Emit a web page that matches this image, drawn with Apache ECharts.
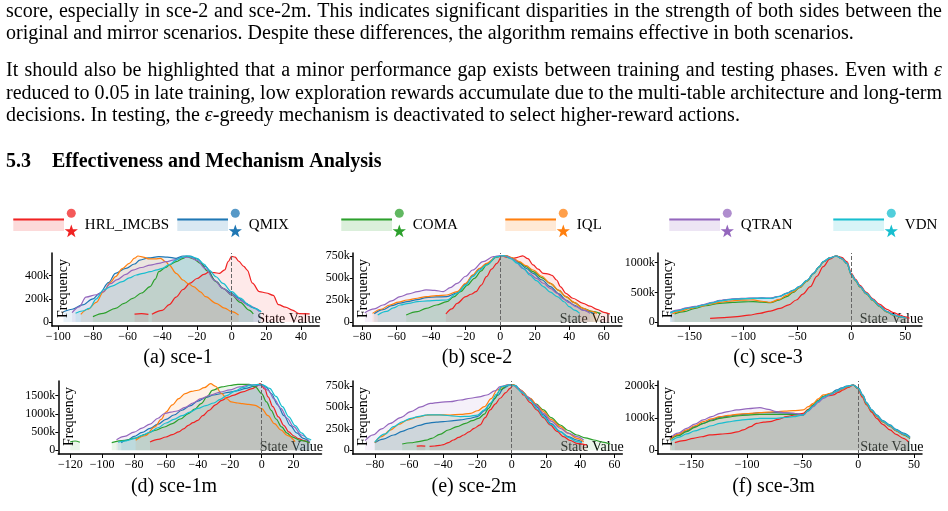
<!DOCTYPE html>
<html>
<head>
<meta charset="utf-8">
<script src="https://cdn.jsdelivr.net/npm/echarts@6/dist/echarts.min.js"></script>
<style>
html, body { margin: 0; padding: 0; background: #fff; }
#main { width: 948px; height: 511px; }
</style>
</head>
<body>
<div id="main"></div>
<script>
// ---- data ----
const algorithms = ['HRL_IMCBS', 'QMIX', 'COMA', 'IQL', 'QTRAN', 'VDN'];
const colors = ['#f02222', '#1f77b4', '#2ca02c', '#ff7f0e', '#9467bd', '#17becf'];
const captions = ['(a) sce-1', '(b) sce-2', '(c) sce-3', '(d) sce-1m', '(e) sce-2m', '(f) sce-3m'];

// frequency values in thousands, '-' marks a gap in the curve
const sce1_HRL = [[-56,68],[-52,72],[-48,66],[-47,'-'],[-46,66],[-40,100],[-36,150],[-32,215],[-28,280],[-24,335],[-20,375],[-16,410],[-13,432],[-10,425],[-7,420],[-4,450],[-2,520],[0,565],[2,560],[4,525],[7,480],[9,448],[12,335],[16,262],[20,250],[24,230],[27,150],[31,128],[35,103],[39,72],[45,70]];
const sce1_QMIX = [[-97,88],[-92,110],[-86,147],[-80,200],[-76,250],[-71,340],[-67,420],[-61,462],[-56,500],[-53,534],[-48,552],[-42,563],[-37,560],[-32,549],[-28,569],[-24,568],[-20,545],[-15,477],[-9,350],[-5,290],[0,248],[4,205],[8,162],[12,125],[17,88]];
const sce1_COMA = [[-80,46],[-74,75],[-67,118],[-62,160],[-57,204],[-52,250],[-47,305],[-44,370],[-42,434],[-38,470],[-36,491],[-32,520],[-28,549],[-26,563],[-22,545],[-18,506],[-14,440],[-9,348],[-5,290],[0,233],[5,170],[10,103],[12.5,69]];
const sce1_IQL = [[-87,66],[-83,110],[-78,170],[-74,260],[-70,340],[-67,391],[-63,460],[-59,506],[-56,550],[-54,569],[-51,560],[-48,545],[-44,545],[-41,549],[-38,520],[-36,491],[-32,420],[-28,362],[-25,330],[-22,305],[-18,260],[-15,218],[-9,161],[-4,120],[0,89],[4,60]];
const sce1_QTRAN = [[-92,80],[-88,130],[-84,215],[-78,235],[-74,260],[-70,330],[-66,365],[-61,410],[-57,448],[-52,470],[-47,491],[-42,505],[-38,520],[-33,535],[-28,557],[-24,560],[-20,530],[-15,460],[-10,360],[-5,290],[0,235],[5,185],[10,140],[16,90]];
const sce1_VDN = [[-90,75],[-86,95],[-82,118],[-78,200],[-74,276],[-69,310],[-63,348],[-59,380],[-55,405],[-51,420],[-47,434],[-43,450],[-40,462],[-36,495],[-32,534],[-29,555],[-26,569],[-23,562],[-20,549],[-16,500],[-13,448],[-9,390],[-5,333],[0,261],[5,205],[10,147],[13,118],[17,89]];

const sce2_HRL = [[-31.5,91],[-28,150],[-25,212],[-20,288],[-17,315],[-14,345],[-11,420],[-8,515],[-5,600],[-2,667],[1,750],[4,735],[7.5,723],[10,735],[13,752],[16,720],[19,648],[22,600],[25,553],[28,545],[30,530],[32.6,477],[35,400],[38,326],[42,270],[48,212],[52,180],[56,144],[60,110],[63.5,91]];
const sce2_QMIX = [[-73,95],[-68,140],[-63,185],[-58,215],[-54,231],[-48,255],[-43,277],[-37,285],[-31,288],[-25,330],[-20,430],[-16,530],[-12,605],[-8,660],[-2,740],[3,755],[7,725],[11,670],[15,610],[19,553],[24,480],[29,402],[34,320],[38,250],[43,190],[48,136],[54,98]];
const sce2_COMA = [[-54.5,80],[-48,118],[-43,155],[-37,193],[-31,231],[-27,285],[-23,345],[-19,420],[-15,496],[-11,580],[-8,648],[-2,740],[2,755],[6,730],[11,680],[15,630],[19,572],[24,505],[29,439],[34,360],[38,288],[43,220],[48,155],[53,120],[58,98]];
const sce2_IQL = [[-74,98],[-69,145],[-64,193],[-59,225],[-54,250],[-48,270],[-43,288],[-37,300],[-31,307],[-25,345],[-20,440],[-16,534],[-12,610],[-8,667],[-2,742],[3,755],[7,730],[11,686],[15,640],[19,591],[24,520],[29,439],[34,360],[38,288],[43,220],[48,155],[52,125],[56,98]];
const sce2_QTRAN = [[-78.5,106],[-73,150],[-68,193],[-63,240],[-58,288],[-53,320],[-48,345],[-43,364],[-38,360],[-33,345],[-29,390],[-25,439],[-20,520],[-16,591],[-10,686],[-4,742],[0,755],[4,745],[8,710],[13,610],[17,550],[21,496],[25,440],[29,383],[33,325],[36,269],[40,220],[44,174],[48,135],[52,98]];
const sce2_VDN = [[-71,80],[-66,120],[-62,160],[-58,193],[-53,212],[-48,231],[-42,240],[-37,245],[-31,250],[-25,326],[-20,420],[-16,515],[-12,590],[-8,648],[-2,742],[2,755],[6,720],[10,667],[14,600],[17,534],[21,470],[25,402],[29,340],[33,288],[37,230],[40,174],[43,135],[46,98]];

const sce3_HRL = [[-131,62],[-118,75],[-106,90],[-95,115],[-85,146],[-75,185],[-66,231],[-58,290],[-51,371],[-45,470],[-38,596],[-32,770],[-26,933],[-20,1060],[-14,1113],[-9,1090],[-4,1017],[0,821],[4,720],[8,620],[14,500],[20,390],[26,300],[33,214],[39,160],[45,118],[50,85],[54,62]];
const sce3_QMIX = [[-168,157],[-160,195],[-153,231],[-145,255],[-137,287],[-129,325],[-122,360],[-114,378],[-106,388],[-98,395],[-91,399],[-83,402],[-75,399],[-67,430],[-60,483],[-54,530],[-48,596],[-41,700],[-35,821],[-30,930],[-26,1017],[-20,1080],[-14,1113],[-9,1070],[-4,989],[0,800],[4,700],[8,596],[14,480],[20,371],[26,270],[33,174],[39,120],[45,90],[51,62]];
const sce3_COMA = [[-164,135],[-155,175],[-145,230],[-135,275],[-122,315],[-110,330],[-100,340],[-91,343],[-83,335],[-75,326],[-67,370],[-60,427],[-54,500],[-48,580],[-41,690],[-35,815],[-30,925],[-26,1012],[-20,1078],[-14,1113],[-9,1068],[-4,985],[0,795],[4,695],[8,590],[14,475],[20,365],[26,265],[33,170],[39,115],[45,85],[51,60]];
const sce3_IQL = [[-166,140],[-158,185],[-150,225],[-140,265],[-130,305],[-122,332],[-114,350],[-106,365],[-98,370],[-91,372],[-83,350],[-75,332],[-67,380],[-60,450],[-54,510],[-48,585],[-41,695],[-35,818],[-30,928],[-26,1015],[-20,1080],[-14,1113],[-9,1070],[-4,988],[0,798],[4,698],[8,594],[14,478],[20,368],[26,268],[33,172],[39,118],[45,88],[51,61]];
const sce3_QTRAN = [[-168,165],[-160,205],[-153,240],[-145,262],[-137,295],[-129,332],[-122,366],[-114,384],[-106,394],[-98,400],[-91,404],[-83,406],[-75,404],[-67,434],[-60,488],[-54,534],[-48,600],[-41,704],[-35,824],[-30,932],[-26,1018],[-20,1082],[-14,1113],[-9,1072],[-4,992],[0,805],[4,705],[8,600],[14,485],[20,376],[26,275],[33,178],[39,124],[45,92],[51,64]];
const sce3_VDN = [[-168,155],[-160,192],[-153,228],[-145,252],[-137,284],[-129,322],[-122,357],[-114,375],[-106,386],[-98,393],[-91,398],[-83,401],[-75,398],[-67,430],[-60,484],[-54,532],[-48,598],[-41,702],[-35,822],[-30,931],[-26,1018],[-20,1081],[-14,1113],[-9,1071],[-4,990],[0,802],[4,702],[8,598],[14,482],[20,373],[26,272],[33,176],[39,122],[45,91],[51,63]];

const sce1m_HRL = [[-70,228],[-65,300],[-60,366],[-56,430],[-52,504],[-49,590],[-46,687],[-43,760],[-40,824],[-37,950],[-33,1099],[-29,1250],[-25,1374],[-21,1460],[-18,1511],[-12,1603],[-6,1695],[-3,1760],[-1,1830],[2,1680],[4,1466],[7,1200],[10.5,916],[14,680],[17,504],[20,400],[23,321],[27,260],[30,209]];
const sce1m_QMIX = [[-88,210],[-84,290],[-80,380],[-75,490],[-70,600],[-65,720],[-60,850],[-55,970],[-50,1100],[-45,1220],[-40,1350],[-35,1450],[-30,1520],[-25,1560],[-20,1600],[-15,1640],[-10,1700],[-5,1760],[0,1810],[3,1730],[6,1560],[10,1250],[14,950],[18,680],[22,480],[26,330],[30,230]];
const sce1m_COMA = [[-120,230],[-117,255],[-114,220],[-112,'-'],[-94,209],[-86,270],[-79,337],[-73,440],[-67,549],[-61,640],[-56,733],[-51,860],[-46,1008],[-42,1130],[-38,1282],[-34,1480],[-31,1648],[-25,1740],[-20,1780],[-15,1813],[-8,1813],[-4,1740],[0,1557],[3,1330],[6,1099],[9,860],[12.5,641],[16,470],[19,367],[24,275],[30,209]];
const sce1m_IQL = [[-79,275],[-73,400],[-67,641],[-63,850],[-60,1052],[-56,1250],[-52,1420],[-48,1555],[-44,1620],[-40,1650],[-36,1720],[-32,1830],[-29,1760],[-25,1555],[-22,1420],[-19,1328],[-15,1300],[-12,1282],[-8,1260],[-4,1236],[0,1145],[4,950],[8,733],[12,560],[16,412],[21,238]];
const sce1m_QTRAN = [[-91,290],[-86,380],[-80,500],[-75,610],[-70,720],[-65,880],[-61,1010],[-57,1050],[-53,1080],[-48,1180],[-43,1300],[-38,1420],[-32,1520],[-26,1600],[-20,1660],[-14,1740],[-8,1790],[-3,1800],[0,1780],[4,1650],[8,1400],[12,1150],[16,880],[20,650],[25,420],[30,240]];
const sce1m_VDN = [[-90,220],[-85,260],[-80,320],[-75,410],[-70,500],[-65,620],[-60,750],[-55,850],[-50,950],[-45,1050],[-40,1150],[-35,1230],[-30,1300],[-26,1400],[-22,1500],[-17,1620],[-12,1720],[-7,1790],[-2,1810],[1,1790],[5,1700],[9,1480],[13,1200],[17,920],[21,680],[25,480],[29,320],[31,280]];

const sce2m_HRL = [[-55.5,48],[-53,52],[-50.5,48],[-49.5,'-'],[-48,46],[-45,50],[-42,58],[-39.8,66],[-37,90],[-34,120],[-31,150],[-28,178],[-25,215],[-22,256],[-18.5,295],[-15.5,380],[-12.6,469],[-9.5,540],[-6.8,605],[-3.5,670],[-1,721],[1,759],[4,720],[6.9,643],[10.8,555],[14.7,469],[18.5,380],[22.5,295],[26.5,220],[30.3,159],[34,115],[38,81],[43.9,62]];
const sce2m_QMIX = [[-80,89],[-75,130],[-69,178],[-64,220],[-59,256],[-54,290],[-49.6,314],[-44,328],[-40,333],[-35,343],[-30,353],[-25,370],[-20,392],[-16,460],[-12.5,546],[-8,640],[-4.8,721],[-1,760],[2,755],[6,680],[10.8,600],[15,500],[18.6,411],[23,310],[28.4,217],[33,160],[38,120],[41,100]];
const sce2m_COMA = [[-64,73],[-59,88],[-54.5,100],[-50,118],[-46.8,139],[-42,185],[-37,236],[-32,275],[-27,314],[-23,345],[-19.4,372],[-16,420],[-13.6,488],[-10,600],[-6.8,701],[-2,760],[1,760],[5,700],[10,610],[14,540],[18.6,469],[23,380],[28.4,294],[33,230],[38,178],[43,145],[48,120],[53,95],[57.5,73]];
const sce2m_IQL = [[-80,89],[-76,160],[-71,235],[-66,300],[-61,352],[-55,385],[-49.6,410],[-43,412],[-36,410],[-30,418],[-24,430],[-20,460],[-16,507],[-12,600],[-8.6,701],[-3,759],[1,760],[5,700],[10.8,605],[15,520],[18.6,450],[23,360],[28.4,275],[33,200],[38,139],[42,100]];
const sce2m_QTRAN = [[-85.7,112],[-81,180],[-76,250],[-71,312],[-65,380],[-59,450],[-53,505],[-47.6,546],[-42,558],[-36,566],[-30,585],[-24,605],[-19,622],[-14.5,643],[-10,690],[-6.7,740],[-2,760],[1,755],[5,700],[9,624],[14,530],[18.6,430],[23,340],[28.4,256],[33,200],[38,159],[42,120]];
const sce2m_VDN = [[-80,95],[-74,190],[-69,275],[-64,330],[-59,372],[-54,395],[-49.6,411],[-44,412],[-40,410],[-35,400],[-30,392],[-25,395],[-20,410],[-16,470],[-12.5,546],[-9,650],[-5.8,740],[-1,760],[2,750],[6,670],[10.8,580],[15,480],[18.6,392],[23,300],[28.4,217],[33,150],[38,100],[41,90]];

const sce3m_HRL = [[-165,237],[-157,300],[-148.4,371],[-141,420],[-133.4,475],[-124,500],[-115.4,526],[-109,570],[-103.4,630],[-97,730],[-91.5,836],[-85,870],[-79.5,887],[-72,960],[-64.5,1042],[-57,1095],[-49.5,1146],[-45,1270],[-40.5,1404],[-36,1540],[-31.5,1661],[-27,1690],[-22.5,1713],[-18,1790],[-13.5,1868],[-9,1950],[-4.5,2022],[0,1900],[3.5,1650],[7.5,1404],[12,1180],[16.5,991],[22,800],[28.5,630],[34,490],[40.5,371],[45,268]];
const sce3m_QMIX = [[-169.4,345],[-162,470],[-154.4,600],[-147,730],[-139.4,836],[-132,940],[-124.4,1022],[-117,1060],[-109.5,1094],[-99,1130],[-88.5,1166],[-81,1166],[-73.5,1166],[-66,1155],[-58.5,1146],[-49.5,1094],[-45,1230],[-40.5,1380],[-36,1520],[-31.5,1661],[-25,1760],[-19.5,1870],[-15,1930],[-10.5,1990],[-4.5,2022],[0,1930],[4,1720],[7.5,1480],[12,1260],[16.5,1100],[22,920],[28.5,790],[34,650],[40.5,530],[46.5,410]];
const sce3m_COMA = [[-169.4,320],[-162,450],[-154.4,578],[-147,710],[-139.4,836],[-132,915],[-124.4,991],[-117,1030],[-109.5,1063],[-99,1090],[-88.5,1115],[-81,1115],[-73.5,1115],[-66,1115],[-58.5,1115],[-49.5,1094],[-45,1250],[-40.5,1400],[-36,1540],[-31.5,1660],[-25,1740],[-19.5,1817],[-15,1890],[-10.5,1965],[-4.5,2022],[0,1910],[4,1680],[7.5,1430],[12,1220],[16.5,1060],[22,880],[28.5,740],[34,600],[40.5,480],[46.5,360]];
const sce3m_IQL = [[-169.4,340],[-162,490],[-154.4,630],[-147,760],[-139.4,887],[-132,970],[-124.4,1042],[-117,1080],[-109.5,1115],[-99,1140],[-88.5,1166],[-81,1180],[-73.5,1197],[-66,1210],[-58.5,1228],[-49.5,1249],[-45,1350],[-40.5,1455],[-36,1590],[-31.5,1713],[-25,1760],[-19.5,1817],[-15,1880],[-10.5,1960],[-4.5,2022],[0,1920],[4,1690],[7.5,1440],[12,1230],[16.5,1070],[22,890],[28.5,750],[34,610],[40.5,490],[46.5,380]];
const sce3m_QTRAN = [[-169.4,371],[-162,530],[-154.4,681],[-147,810],[-139.4,939],[-132,1040],[-124.4,1146],[-117,1200],[-109.5,1249],[-99,1290],[-88.5,1321],[-81,1270],[-73.5,1197],[-66,1165],[-58.5,1146],[-49.5,1094],[-45,1220],[-40.5,1352],[-36,1480],[-31.5,1610],[-25,1720],[-19.5,1817],[-15,1900],[-10.5,1972],[-4.5,2022],[0,1920],[4,1700],[7.5,1455],[12,1240],[16.5,1080],[22,900],[28.5,760],[34,620],[40.5,500],[46.5,390]];
const sce3m_VDN = [[-168,300],[-161,410],[-154.4,506],[-147,600],[-139.4,681],[-132,760],[-124.4,836],[-117,880],[-109.5,919],[-99,960],[-88.5,991],[-81,991],[-73.5,991],[-66,1015],[-58.5,1042],[-49.5,1094],[-45,1230],[-40.5,1380],[-36,1520],[-31.5,1650],[-25,1740],[-19.5,1830],[-15,1910],[-10.5,1980],[-4.5,2022],[0,1925],[4,1700],[7.5,1460],[12,1250],[16.5,1090],[22,905],[28.5,770],[34,630],[40.5,510],[46.5,395]];

// tick labels
const xTicks1 = [-100, -80, -60, -40, -20, 0, 20, 40];
const xTicks2 = [-80, -60, -40, -20, 0, 20, 40, 60];
const xTicks3 = [-150, -100, -50, 0, 50];
const xTicks1m = [-120, -100, -80, -60, -40, -20, 0, 20];
const yTicks1 = [0, 200, 400];
const yTicks2 = [0, 250, 500, 750];
const yTicks3 = [0, 500, 1000];
const yTicks1m = [0, 500, 1000, 1500];
const yTicks3m = [0, 1000, 2000];

// page text around the figure
const bodyLines = [
  {text: 'score, especially in sce-2 and sce-2m.  This indicates significant disparities in the strength of both sides between the', justify: true},
  {text: 'original and mirror scenarios. Despite these differences, the algorithm remains effective in both scenarios.', justify: false},
  {text: 'It should also be highlighted that a minor performance gap exists between training and testing phases.  Even with ε', justify: true},
  {text: 'reduced to 0.05 in late training, low exploration rewards accumulate due to the multi-table architecture and long-term', justify: true},
  {text: 'decisions. In testing, the ε-greedy mechanism is deactivated to select higher-reward actions.', justify: false}
];
const sectionNumber = '5.3';
const sectionTitle = 'Effectiveness and Mechanism Analysis';

// ---- layout ----
const panels = [
  {series: [sce1_HRL, sce1_QMIX, sce1_COMA, sce1_IQL, sce1_QTRAN, sce1_VDN], xTicks: xTicks1, yTicks: yTicks1,
   left: 52, top: 253, width: 267.2, xMin: -103.6, xMax: 50.5, yMin: -34.5, yMax: 594.8, capX: 178, capY: 358},
  {series: [sce2_HRL, sce2_QMIX, sce2_COMA, sce2_IQL, sce2_QTRAN, sce2_VDN], xTicks: xTicks2, yTicks: yTicks2,
   left: 352.7, top: 253, width: 268.9, xMin: -85.5, xMax: 70.3, yMin: -45.5, yMax: 784, capX: 477, capY: 358},
  {series: [sce3_HRL, sce3_QMIX, sce3_COMA, sce3_IQL, sce3_QTRAN, sce3_VDN], xTicks: xTicks3, yTicks: yTicks3,
   left: 657.7, top: 253, width: 264, xMin: -179.6, xMax: 65.3, yMin: -67.5, yMax: 1163.6, capX: 768, capY: 358},
  {series: [sce1m_HRL, sce1m_QMIX, sce1m_COMA, sce1m_IQL, sce1m_QTRAN, sce1m_VDN], xTicks: xTicks1m, yTicks: yTicks1m,
   left: 58.3, top: 381, width: 263.2, xMin: -127.5, xMax: 37.5, yMin: -101.6, yMax: 1904, capX: 174, capY: 487},
  {series: [sce2m_HRL, sce2m_QMIX, sce2m_COMA, sce2m_IQL, sce2m_QTRAN, sce2m_VDN], xTicks: xTicks2, yTicks: yTicks2,
   left: 352.7, top: 381, width: 269.6, xMin: -92.9, xMax: 64.6, yMin: -43, yMax: 805.8, capX: 474, capY: 487},
  {series: [sce3m_HRL, sce3m_QMIX, sce3m_COMA, sce3m_IQL, sce3m_QTRAN, sce3m_VDN], xTicks: xTicks3, yTicks: yTicks3m,
   left: 657.7, top: 381, width: 264.3, xMin: -180.4, xMax: 57.3, yMin: -114.6, yMax: 2145.5, capX: 773.5, capY: 487}
];
const plotHeight = 73;
const serif = '"Liberation Serif", "Times New Roman", serif';

function rgba(hex, a) {
  const n = parseInt(hex.slice(1), 16);
  return 'rgba(' + (n >> 16) + ',' + ((n >> 8) & 255) + ',' + (n & 255) + ',' + a + ')';
}

function starPoints(cx, cy, outer, inner) {
  const pts = [];
  for (let i = 0; i < 10; i++) {
    const r = i % 2 === 0 ? outer : inner;
    const ang = -Math.PI / 2 + i * Math.PI / 5;
    pts.push([cx + r * Math.cos(ang), cy + r * Math.sin(ang)]);
  }
  return pts;
}

// text lines are laid out word by word so justified lines fill the text width
const measureCtx = document.createElement('canvas').getContext('2d');
function fontString(style, weight, size) {
  return style + ' ' + weight + ' ' + size + 'px ' + serif;
}
function splitPieces(word) {
  // the epsilon symbol is set in italic
  const out = [];
  const idx = word.indexOf('ε');
  if (idx < 0) return [{t: word, italic: false}];
  if (idx > 0) out.push({t: word.slice(0, idx), italic: false});
  out.push({t: 'ε', italic: true});
  if (idx + 1 < word.length) out.push({t: word.slice(idx + 1), italic: false});
  return out;
}
function layoutLine(text, x0, y, targetWidth, justify, size, weight) {
  const words = text.split(/\s+/);
  const items = words.map(w => {
    const pieces = splitPieces(w).map(p => {
      const f = fontString(p.italic ? 'italic' : 'normal', weight, size);
      measureCtx.font = f;
      return {t: p.t, font: f, w: measureCtx.measureText(p.t).width};
    });
    return {pieces, w: pieces.reduce((s, p) => s + p.w, 0)};
  });
  measureCtx.font = fontString('normal', weight, size);
  let gap = measureCtx.measureText(' ').width;
  if (justify && items.length > 1) {
    const total = items.reduce((s, it) => s + it.w, 0);
    gap = (targetWidth - total) / (items.length - 1);
  }
  const els = [];
  let x = x0;
  items.forEach(it => {
    let px = x;
    it.pieces.forEach(p => {
      els.push({type: 'text', x: px, y: y, silent: true,
        style: {text: p.t, font: p.font, fill: '#000', textAlign: 'left', textVerticalAlign: 'middle'}});
      px += p.w;
    });
    x += it.w + gap;
  });
  return els;
}

// ---- option ----
const grids = [], xAxes = [], yAxes = [], series = [], graphics = [];
const fmtX = v => String(v).replace('-', '\u2212');
const fmtY = v => v === 0 ? '0' : v + 'k';

panels.forEach((p, i) => {
  grids.push({left: p.left, top: p.top, width: p.width, height: plotHeight, containLabel: false});
  xAxes.push({
    gridIndex: i, type: 'value', min: p.xMin, max: p.xMax,
    axisLine: {onZero: false, lineStyle: {color: '#000', width: 1.5}},
    axisTick: {show: true, length: 4, lineStyle: {color: '#000', width: 1}, customValues: p.xTicks},
    axisLabel: {customValues: p.xTicks, formatter: fmtX, fontFamily: serif, fontSize: 12, color: '#000', margin: 5},
    splitLine: {show: false},
    name: 'State Value', nameLocation: 'end', nameGap: 1.5,
    nameTextStyle: {fontFamily: serif, fontSize: 14, color: '#000', align: 'right', verticalAlign: 'bottom'}
  });
  yAxes.push({
    gridIndex: i, type: 'value', min: p.yMin, max: p.yMax,
    axisLine: {show: true, onZero: false, lineStyle: {color: '#000', width: 1.5}},
    axisTick: {show: true, length: 3, lineStyle: {color: '#000', width: 1}, customValues: p.yTicks},
    axisLabel: {customValues: p.yTicks, formatter: fmtY, fontFamily: serif, fontSize: 12, color: '#000', margin: 3},
    splitLine: {show: false}
  });
  p.series.forEach((d, k) => {
    series.push({
      name: algorithms[k], type: 'line', xAxisIndex: i, yAxisIndex: i, data: d,
      smooth: 0.35, smoothMonotone: 'x', symbol: 'none', connectNulls: false, silent: true,
      lineStyle: {color: colors[k], width: 1.2},
      itemStyle: {color: colors[k]},
      areaStyle: {color: rgba(colors[k], 0.14)},
      markLine: k === 0 ? {
        silent: true, symbol: ['none', 'none'], label: {show: false},
        lineStyle: {color: '#666', type: 'dashed', width: 1},
        data: [{xAxis: 0}]
      } : undefined
    });
  });
  // y axis title sits just inside the plot, reading bottom to top
  graphics.push({type: 'text', x: p.left + 11, y: p.top + plotHeight / 2 - 1, rotation: Math.PI / 2, silent: true, z: 10,
    style: {text: 'Frequency', font: fontString('normal', 'normal', 14), fill: '#000', textAlign: 'center', textVerticalAlign: 'middle'}});
  graphics.push({type: 'text', x: p.capX, y: p.capY, silent: true,
    style: {text: captions[i], font: fontString('normal', 'normal', 20), fill: '#000', textAlign: 'center', textVerticalAlign: 'middle'}});
});

// legend row
const legendX0 = 13.3, legendStep = 164, legendY = 225;
algorithms.forEach((name, k) => {
  const x = legendX0 + k * legendStep;
  graphics.push({type: 'rect', silent: true, shape: {x: x, y: legendY - 6.5, width: 50.7, height: 12.5}, style: {fill: rgba(colors[k], 0.17)}});
  graphics.push({type: 'line', silent: true, shape: {x1: x, y1: legendY - 5.5, x2: x + 50.7, y2: legendY - 5.5}, style: {stroke: colors[k], lineWidth: 2}});
  graphics.push({type: 'circle', silent: true, shape: {cx: x + 58, cy: legendY - 11.7, r: 4.5}, style: {fill: rgba(colors[k], 0.75)}});
  graphics.push({type: 'polygon', silent: true, shape: {points: starPoints(x + 58, legendY + 6.5, 7, 2.8)}, style: {fill: colors[k]}});
  graphics.push({type: 'text', x: x + 71.5, y: legendY, silent: true,
    style: {text: name, font: fontString('normal', 'normal', 15), fill: '#000', textAlign: 'left', textVerticalAlign: 'middle'}});
});

// body text and section heading
const lineYs = [11.5, 34, 71, 93.5, 116];
bodyLines.forEach((ln, i) => {
  layoutLine(ln.text, 6, lineYs[i], 936, ln.justify, 20, 'normal').forEach(e => graphics.push(e));
});
layoutLine(sectionNumber, 6, 162, 0, false, 20, 'bold').forEach(e => graphics.push(e));
layoutLine(sectionTitle, 52, 162, 0, false, 20, 'bold').forEach(e => graphics.push(e));

const chart = echarts.init(document.getElementById('main'), null, {renderer: 'canvas'});
chart.setOption({
  animation: false,
  backgroundColor: '#fff',
  grid: grids,
  xAxis: xAxes,
  yAxis: yAxes,
  series: series,
  graphic: {elements: graphics}
});
</script>
</body>
</html>
